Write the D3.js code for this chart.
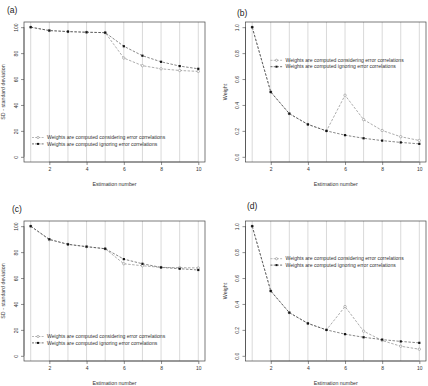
<!DOCTYPE html>
<html><head><meta charset="utf-8">
<script src="https://cdn.jsdelivr.net/npm/d3@7"></script>
<style>html,body{margin:0;padding:0;background:#fff;}svg{display:block;font-family:"Liberation Sans",Arial,sans-serif;}</style>
</head><body>
<svg id="chart" width="428" height="386"></svg>
<script>
const estimation = [1, 2, 3, 4, 5, 6, 7, 8, 9, 10];
const xTicks = [2, 4, 6, 8, 10];
const sdTicks = [0, 20, 40, 60, 80, 100];
const weightTicks = [0.0, 0.2, 0.4, 0.6, 0.8, 1.0];
const seriesNames = ["Weights are computed considering error correlations", "Weights are computed ignoring error correlations"];
const aConsidering = [100, 97.4, 96.6, 96.1, 95.8, 76.2, 70.3, 67.9, 66.6, 65.9];
const aIgnoring    = [100, 97.4, 96.6, 96.1, 95.8, 85.3, 78.0, 73.3, 70.0, 67.9];
const bConsidering = [1, 0.5, 0.333, 0.25, 0.2, 0.475, 0.287, 0.203, 0.155, 0.126];
const bIgnoring    = [1, 0.5, 0.333, 0.25, 0.2, 0.167, 0.143, 0.125, 0.111, 0.1];
const cConsidering = [100, 89.6, 86.0, 84.2, 82.6, 71.0, 69.5, 68.2, 68.0, 67.8];
const cIgnoring    = [100, 89.9, 86.0, 84.2, 82.6, 74.6, 71.0, 68.2, 67.2, 66.2];
const dConsidering = [1, 0.5, 0.333, 0.25, 0.2, 0.38, 0.19, 0.118, 0.074, 0.051];
const dIgnoring    = [1, 0.5, 0.333, 0.25, 0.2, 0.167, 0.143, 0.125, 0.111, 0.1];

const panels = [
  {label:"(a)", lx:7, ly:10, box:[24,205,22,162], yDom:[0,100], ticks:sdTicks, fmt:d=>d, ytitle:"SD - standard deviation", cons:aConsidering, ign:aIgnoring, leg:[8,115.5]},
  {label:"(b)", lx:237, ly:13, box:[245.5,426,22,162], yDom:[0,1], ticks:weightTicks, fmt:d=>d.toFixed(1), ytitle:"Weight", cons:bConsidering, ign:bIgnoring, leg:[25,38.3]},
  {label:"(c)", lx:12, ly:209, box:[24,205,221,361], yDom:[0,100], ticks:sdTicks, fmt:d=>d, ytitle:"SD - standard deviation", cons:cConsidering, ign:cIgnoring, leg:[8,115.5]},
  {label:"(d)", lx:247, ly:206, box:[245.5,426,221,361], yDom:[0,1], ticks:weightTicks, fmt:d=>d.toFixed(1), ytitle:"Weight", cons:dConsidering, ign:dIgnoring, leg:[25,37.7]}
];

const svg = d3.select("#chart");
const grid = "#d9d9d9", axisCol = "#444", txt = "#333";
const consCol = "#8a8a8a", ignCol = "#111";

panels.forEach(p => {
  const [L,R,T,B] = p.box;
  const pad = 0.04*(10-1);
  const x = d3.scaleLinear().domain([1-pad, 10+pad]).range([L,R]);
  const yr = p.yDom[1]-p.yDom[0];
  const y = d3.scaleLinear().domain([p.yDom[0]-0.04*yr, p.yDom[1]+0.04*yr]).range([B,T]);
  const g = svg.append("g");

  g.append("text").attr("x",p.lx).attr("y",p.ly).attr("dy","0.35em")
    .attr("font-size",8.5).attr("fill","#222").text(p.label);

  // vertical grid lines
  g.selectAll("line.grid").data(estimation).join("line").attr("class","grid")
    .attr("x1",d=>x(d)).attr("x2",d=>x(d)).attr("y1",T).attr("y2",B)
    .attr("stroke",grid).attr("stroke-width",1);

  // box
  g.append("rect").attr("x",L).attr("y",T).attr("width",R-L).attr("height",B-T)
    .attr("fill","none").attr("stroke",axisCol).attr("stroke-width",0.7);

  // x axis
  const xa = g.append("g").attr("transform",`translate(0,${B})`)
    .call(d3.axisBottom(x).tickValues(xTicks).tickSize(3).tickSizeOuter(0).tickPadding(2.5));
  xa.select(".domain").attr("d",`M${x(2)},0H${x(10)}`).attr("stroke",axisCol).attr("stroke-width",0.6);
  xa.selectAll(".tick line").attr("stroke",axisCol).attr("stroke-width",0.6);
  xa.selectAll(".tick text").attr("font-size",5).attr("fill",txt).attr("font-family","Liberation Sans, Arial, sans-serif");

  // y axis
  const ya = g.append("g").attr("transform",`translate(${L},0)`)
    .call(d3.axisLeft(y).tickValues(p.ticks).tickFormat(p.fmt).tickSize(3).tickSizeOuter(0));
  ya.select(".domain").attr("d",`M0,${y(p.ticks[0])}V${y(p.ticks[p.ticks.length-1])}`).attr("stroke",axisCol).attr("stroke-width",0.6);
  ya.selectAll(".tick line").attr("stroke",axisCol).attr("stroke-width",0.6);
  ya.selectAll(".tick text").attr("font-size",5).attr("fill",txt).attr("font-family","Liberation Sans, Arial, sans-serif")
    .attr("x",-8).attr("dy","0.35em").attr("text-anchor","middle").attr("transform","rotate(-90)")
    .each(function(d){ d3.select(this).attr("x",-y(d)).attr("y",-8).attr("dy","0.35em"); });
  ya.selectAll(".tick text").attr("transform",function(d){return `translate(0,${-y(d)}) rotate(-90)`;})
    .attr("x",0).attr("y",-8);
  // fix: ticks are translated by y(d) already; rotate around tick origin
  ya.selectAll(".tick text").attr("transform","rotate(-90)").attr("x",0).attr("y",-8);

  // titles
  g.append("text").attr("x",(L+R)/2).attr("y",B+22).attr("dy","0.35em").attr("text-anchor","middle")
    .attr("font-size",5.3).attr("fill",txt).text("Estimation number");
  g.append("text").attr("transform",`translate(${L-20.5},${(T+B)/2}) rotate(-90)`).attr("dy","0.35em")
    .attr("text-anchor","middle").attr("font-size",5.3).attr("fill",txt).text(p.ytitle);

  const line = d3.line().x((d,i)=>x(estimation[i])).y(d=>y(d));
  // considering (gray)
  g.append("path").datum(p.cons).attr("d",line).attr("fill","none")
    .attr("stroke",consCol).attr("stroke-width",0.7).attr("stroke-dasharray","2.5,1.5");
  // ignoring (black)
  g.append("path").datum(p.ign).attr("d",line).attr("fill","none")
    .attr("stroke",ignCol).attr("stroke-width",0.6).attr("stroke-dasharray","2.5,1.5").attr("opacity",0.85);
  g.selectAll("circle.cons").data(p.cons).join("circle").attr("class","cons")
    .attr("cx",(d,i)=>x(estimation[i])).attr("cy",d=>y(d)).attr("r",1.2)
    .attr("fill","#fff").attr("stroke",consCol).attr("stroke-width",0.6);
  g.selectAll("rect.ign").data(p.ign).join("rect").attr("class","ign")
    .attr("x",(d,i)=>x(estimation[i])-1.1).attr("y",d=>y(d)-1.1).attr("width",2.2).attr("height",2.2)
    .attr("fill",ignCol);

  // legend
  const lx0 = L + p.leg[0], ly0 = T + p.leg[1];
  seriesNames.forEach((name,k)=>{
    const yy = ly0 + k*6.4;
    const col = k===0 ? consCol : ignCol;
    g.append("line").attr("x1",lx0).attr("x2",lx0+12).attr("y1",yy).attr("y2",yy)
      .attr("stroke",col).attr("stroke-width",0.6).attr("stroke-dasharray","2,1.2");
    if(k===0){
      g.append("circle").attr("cx",lx0+6).attr("cy",yy).attr("r",1.1).attr("fill","#fff").attr("stroke",col).attr("stroke-width",0.6);
    } else {
      g.append("rect").attr("x",lx0+5).attr("y",yy-1).attr("width",2).attr("height",2).attr("fill",col);
    }
    g.append("text").attr("x",lx0+15).attr("y",yy).attr("dy","0.35em").attr("font-size",5.1)
      .attr("fill",txt).text(name);
  });
});
</script>
</body></html>
